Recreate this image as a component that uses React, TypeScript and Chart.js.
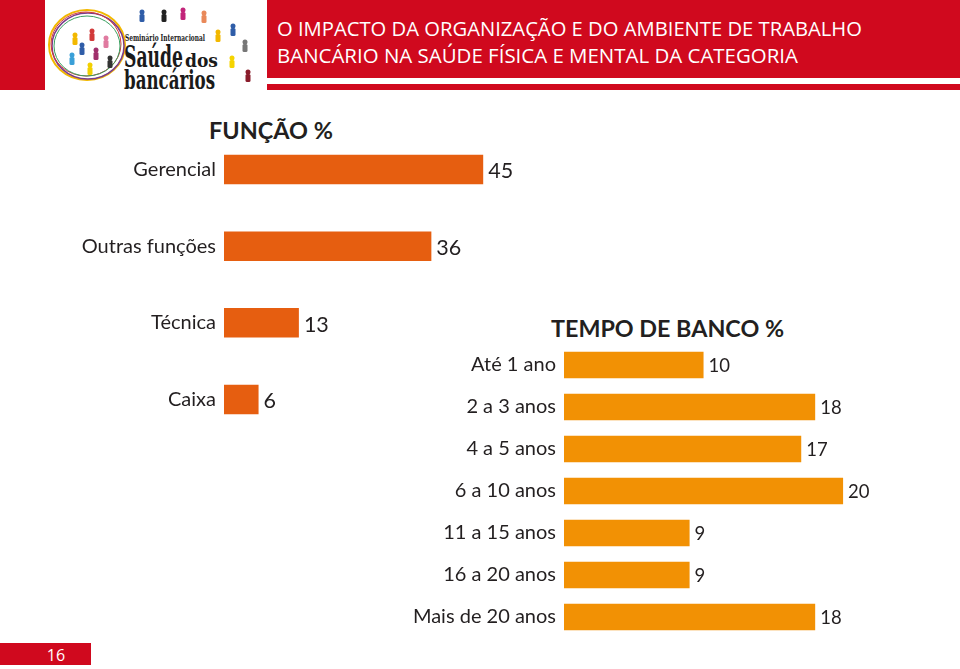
import React, { useEffect, useRef } from "react";
import { Chart, registerables } from "chart.js";

Chart.register(...registerables);

// ---------- data ----------
const funcaoLabels = ["Gerencial", "Outras funções", "Técnica", "Caixa"];
const funcaoValues = [45, 36, 13, 6];

const tempoLabels = [
  "Até 1 ano",
  "2 a 3 anos",
  "4 a 5 anos",
  "6 a 10 anos",
  "11 a 15 anos",
  "16 a 20 anos",
  "Mais de 20 anos",
];
const tempoValues = [10, 18, 17, 20, 9, 9, 18];

const headerLines = [
  "O IMPACTO DA ORGANIZAÇÃO E DO AMBIENTE DE TRABALHO",
  "BANCÁRIO NA SAÚDE FÍSICA E MENTAL DA CATEGORIA",
];
const funcaoTitle = "FUNÇÃO %";
const tempoTitle = "TEMPO DE BANCO %";
const pageNumber = "16";

// ---------- styles ----------
const RED = "#D0091E";
const TEXT = "#231F20";
const FUNCAO_COLOR = "#E65E10";
const TEMPO_COLOR = "#F29104";
const FONT = "Lato, 'Open Sans', sans-serif";

type ChartCfg = {
  left: number;
  top: number;
  width: number;
  height: number;
  labels: string[];
  values: number[];
  color: string;
  xMax: number;
  axisWidth: number;
  barPct: number;
  padTop: number;
  padBottom: number;
  padRight: number;
  labelSize: number;
  valueSize: number;
  valueGap: number;
  valueDy: number;
};

function BarChart(cfg: ChartCfg) {
  const ref = useRef<HTMLCanvasElement | null>(null);
  useEffect(() => {
    if (!ref.current) return;
    const valuePlugin = {
      id: "valueLabels",
      afterDatasetsDraw(chart: any) {
        const ctx = chart.ctx;
        const meta = chart.getDatasetMeta(0);
        ctx.save();
        ctx.font = `400 ${cfg.valueSize}px ${FONT}`;
        ctx.fillStyle = TEXT;
        ctx.textAlign = "left";
        ctx.textBaseline = "middle";
        meta.data.forEach((el: any, i: number) => {
          const v = chart.data.datasets[0].data[i];
          ctx.fillText(String(v), el.x + cfg.valueGap, el.y + cfg.valueDy);
        });
        ctx.restore();
      },
    };
    const chart = new Chart(ref.current, {
      type: "bar",
      data: {
        labels: cfg.labels,
        datasets: [
          {
            data: cfg.values,
            backgroundColor: cfg.color,
            borderWidth: 0,
            categoryPercentage: 1,
            barPercentage: cfg.barPct,
          },
        ],
      },
      options: {
        indexAxis: "y",
        animation: false,
        responsive: false,
        devicePixelRatio: 1,
        layout: {
          padding: { left: 0, top: cfg.padTop, bottom: cfg.padBottom, right: cfg.padRight },
        },
        plugins: {
          legend: { display: false },
          tooltip: { enabled: false },
          title: { display: false },
        },
        scales: {
          x: { display: false, min: 0, max: cfg.xMax },
          y: {
            grid: { display: false, drawTicks: false },
            border: { display: false },
            ticks: {
              color: TEXT,
              padding: 8,
              font: { family: FONT, size: cfg.labelSize },
            },
            afterFit(scale: any) {
              scale.width = cfg.axisWidth;
            },
          },
        },
      },
      plugins: [valuePlugin],
    } as any);
    return () => chart.destroy();
  }, []);
  return (
    <canvas
      ref={ref}
      width={cfg.width}
      height={cfg.height}
      style={{
        position: "absolute",
        left: cfg.left,
        top: cfg.top,
        width: cfg.width,
        height: cfg.height,
      }}
    />
  );
}

const figures: [number, number, string][] = [
  [142, 12, "#2F5DA8"],
  [164, 12, "#222222"],
  [183, 10, "#C2257A"],
  [204, 13, "#E9895A"],
  [218, 32, "#F2B800"],
  [233, 26, "#2F5DA8"],
  [245, 42, "#777777"],
  [232, 58, "#F5D400"],
  [248, 72, "#8A1C2B"],
  [75, 35, "#F2B800"],
  [92, 31, "#D23A3A"],
  [106, 38, "#E07AA0"],
  [82, 45, "#2F5DA8"],
  [96, 50, "#A0306C"],
  [72, 55, "#3AA0D8"],
  [110, 58, "#333333"],
  [90, 65, "#F2D000"],
];

function Header() {
  return (
    <svg
      width={960}
      height={669}
      style={{ position: "absolute", left: 0, top: 0 }}
    >
      <rect x={0} y={0} width={45} height={90} fill={RED} />
      <rect x={267} y={0} width={693} height={78} fill={RED} />
      <rect x={267} y={84} width={693} height={6} fill={RED} />
      <text
        x={277}
        y={36}
        fill="#fff"
        fontFamily="'Open Sans', sans-serif"
        fontSize={19.5}
        textLength={585}
        lengthAdjust="spacingAndGlyphs"
      >
        {headerLines[0]}
      </text>
      <text
        x={277}
        y={63}
        fill="#fff"
        fontFamily="'Open Sans', sans-serif"
        fontSize={19.5}
        textLength={521}
        lengthAdjust="spacingAndGlyphs"
      >
        {headerLines[1]}
      </text>

      {/* logo */}
      <ellipse cx={87} cy={45} rx={38} ry={35} fill="none" stroke="#F2B800" strokeWidth={2} />
      <ellipse cx={88} cy={46} rx={36} ry={33} fill="none" stroke="#7A3C8C" strokeWidth={1.5} />
      <ellipse cx={86} cy={44} rx={35} ry={32} fill="none" stroke="#D23A3A" strokeWidth={1} />
      <ellipse cx={87} cy={46} rx={33} ry={30} fill="none" stroke="#3AA060" strokeWidth={1} />
      {figures.map(([x, y, c], i) => (
        <g key={i}>
          <circle cx={x} cy={y} r={2.5} fill={c} />
          <rect x={x - 2.5} y={y + 2} width={5} height={8} rx={1.5} fill={c} />
        </g>
      ))}
      <text
        x={125}
        y={40.5}
        fill="#1a1a1a"
        fontFamily="'DejaVu Serif Condensed', 'DejaVu Serif', serif"
        fontWeight={700}
        fontSize={9.5}
        textLength={80}
        lengthAdjust="spacingAndGlyphs"
      >
        Seminário Internacional
      </text>
      <text
        x={124}
        y={67}
        fill="#1a1a1a"
        fontFamily="'DejaVu Serif Condensed', 'DejaVu Serif', serif"
        fontWeight={700}
        fontSize={29}
        textLength={59}
        lengthAdjust="spacingAndGlyphs"
      >
        Saúde
      </text>
      <text
        x={185}
        y={67}
        fill="#1a1a1a"
        fontFamily="'DejaVu Serif Condensed', 'DejaVu Serif', serif"
        fontWeight={700}
        fontSize={18}
        textLength={33}
        lengthAdjust="spacingAndGlyphs"
      >
        dos
      </text>
      <text
        x={124}
        y={89}
        fill="#1a1a1a"
        fontFamily="'DejaVu Serif Condensed', 'DejaVu Serif', serif"
        fontWeight={700}
        fontSize={26}
        textLength={91}
        lengthAdjust="spacingAndGlyphs"
      >
        bancários
      </text>

      {/* chart titles */}
      <text
        x={209}
        y={138.5}
        fill={TEXT}
        fontFamily={FONT}
        fontWeight={700}
        fontSize={23.5}
        textLength={124}
        lengthAdjust="spacingAndGlyphs"
      >
        {funcaoTitle}
      </text>
      <text
        x={551}
        y={336.5}
        fill={TEXT}
        fontFamily={FONT}
        fontWeight={700}
        fontSize={23.5}
        textLength={233}
        lengthAdjust="spacingAndGlyphs"
      >
        {tempoTitle}
      </text>

      {/* page number */}
      <rect x={0} y={643} width={91} height={22} fill={RED} />
      <text
        x={56}
        y={661}
        fill="#fff"
        textAnchor="middle"
        fontFamily="'Open Sans', sans-serif"
        fontSize={16}
      >
        {pageNumber}
      </text>
    </svg>
  );
}

export default function App() {
  return (
    <div
      style={{
        position: "absolute",
        left: 0,
        top: 0,
        width: 960,
        height: 669,
        background: "#fff",
        overflow: "hidden",
      }}
    >
      <Header />
      <BarChart
        left={0}
        top={100}
        width={600}
        height={370}
        labels={funcaoLabels}
        values={funcaoValues}
        color={FUNCAO_COLOR}
        xMax={50}
        axisWidth={224}
        barPct={0.385}
        padTop={31.2}
        padBottom={32.2}
        padRight={88}
        labelSize={20}
        valueSize={21.5}
        valueGap={5}
        valueDy={2}
      />
      <BarChart
        left={380}
        top={320}
        width={580}
        height={345}
        labels={tempoLabels}
        values={tempoValues}
        color={TEMPO_COLOR}
        xMax={22}
        axisWidth={184}
        barPct={0.63}
        padTop={24}
        padBottom={27}
        padRight={89}
        labelSize={20}
        valueSize={18.5}
        valueGap={5}
        valueDy={1.5}
      />
    </div>
  );
}
